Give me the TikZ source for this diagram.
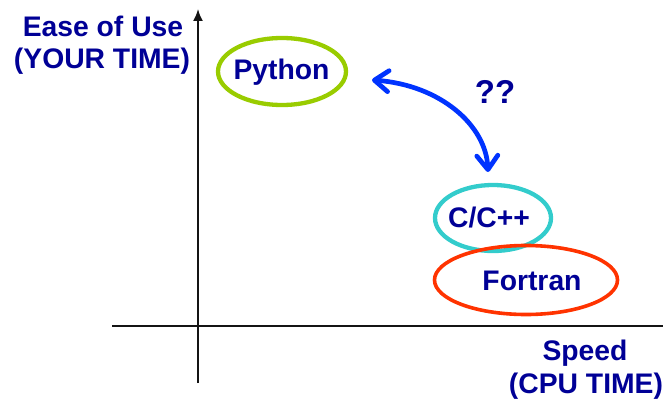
\documentclass[tikz,border=0pt]{standalone}
\usepackage{fontspec}
\setmainfont{Liberation Sans}
\usetikzlibrary{shapes.geometric,arrows.meta}
\definecolor{txtblue}{RGB}{0,0,150}
\definecolor{pygreen}{RGB}{153,204,0}
\definecolor{ccyan}{RGB}{51,204,204}
\definecolor{fred}{RGB}{255,51,0}
\definecolor{arrblue}{RGB}{0,51,255}
\definecolor{axisgray}{RGB}{20,20,20}
\begin{document}
\begin{tikzpicture}[x=1pt,y=-1pt,
  lbl/.style={text=txtblue,font=\fontsize{28.3}{33}\selectfont\bfseries,inner sep=0pt,anchor=base},
  oval/.style={ellipse,draw,inner sep=0pt},
  axisline/.style={draw=axisgray,line width=1.8pt}]
\useasboundingbox (0,0) rectangle (663,401);
% axes
\coordinate (hl) at (112,326);
\coordinate (hr) at (663,326);
\coordinate (vb) at (198,383);
\coordinate (vt) at (198,9);
\draw[axisline] (hl) -- (hr);
\draw[axisline,-{Latex[length=12pt,width=10pt]}] (vb) -- (vt);
% axis labels
\node[lbl] (ease1) at (103,37) {Ease of Use};
\node[lbl] (ease2) at (102,69) {(YOUR TIME)};
\node[lbl] (speed1) at (585,360) {Speed};
\node[lbl] (speed2) at (586,393) {(CPU TIME)};
% ellipses
\node[oval,draw=pygreen,line width=4.3pt,minimum width=128pt,minimum height=67pt] (python) at (282,71.5) {};
\node[lbl] (pylbl) at (281.5,80) {Python};
\node[oval,draw=ccyan,line width=4.3pt,minimum width=116pt,minimum height=66pt] (cpp) at (493,218) {};
\node[lbl] (cpplbl) at (489,227) {C/C++};
\node[oval,draw=fred,line width=3.6pt,minimum width=183pt,minimum height=69pt] (fortran) at (526,280) {};
\node[lbl] (forlbl) at (532,290) {Fortran};
% question marks
\node[lbl,font=\fontsize{33}{36}\selectfont\bfseries] (qq) at (495,103) {??};
% double arrow
\coordinate (al) at (372,80);
\coordinate (ab) at (488,172);
\draw[arrblue,line width=4.7pt,{Straight Barb[length=14pt,width=21pt,round]}-{Straight Barb[length=14pt,width=21pt,round]}]
  (al) .. controls (440,85) and (486,125) .. (ab);
\end{tikzpicture}
\end{document}
